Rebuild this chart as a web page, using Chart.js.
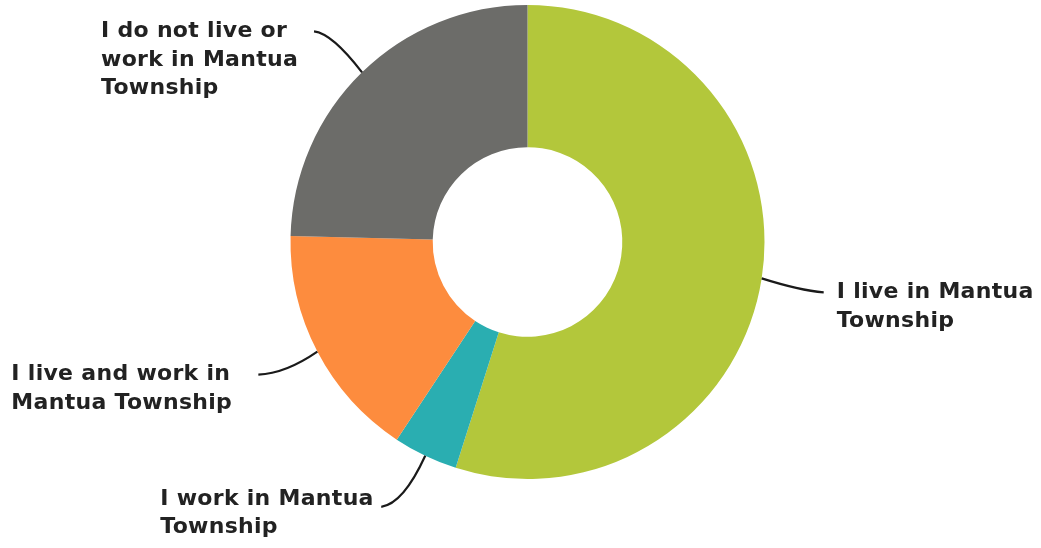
<!DOCTYPE html>
<html>
<head>
<meta charset="utf-8">
<script src="https://cdn.jsdelivr.net/npm/chart.js@4/dist/chart.umd.min.js"></script>
<style>
  html, body { margin: 0; padding: 0; background: #ffffff; }
  #wrap { width: 1041px; height: 548px; position: relative; }
</style>
</head>
<body>
<div id="wrap"><canvas id="c" width="1041" height="548"></canvas></div>
<script>
// ---- data ----
const categories = [
  "I live in Mantua Township",
  "I work in Mantua Township",
  "I live and work in Mantua Township",
  "I do not live or work in Mantua Township"
];
const labelLines = [
  ["I live in Mantua", "Township"],
  ["I work in Mantua", "Township"],
  ["I live and work in", "Mantua Township"],
  ["I do not live or", "work in Mantua", "Township"]
];
const shares = [54.9, 4.4, 16.1, 24.6];
const colors = ["#b3c73b", "#2aaeb1", "#fd8c3e", "#6c6c69"];

// ---- label layout (relative to each slice's outer midpoint) ----
const labelStyle = [
  { end: [62, 14], ctrl: [38, 12], text: [13, 0] },
  { end: [-44, 51], ctrl: [-22, 48], text: [-221, -8] },
  { end: [-59, 23], ctrl: [-32, 22], text: [-247, 0] },
  { end: [-48, -41], ctrl: [-30, -39], text: [-213, 0] }
];
const FONT = "bold 22px 'DejaVu Sans', Verdana, sans-serif";
const LINE_H = 28.5;

const leaderLabels = {
  id: 'leaderLabels',
  afterDraw(chart) {
    const ctx = chart.ctx;
    const meta = chart.getDatasetMeta(0);
    meta.data.forEach((arc, i) => {
      const p = arc.getProps(['x', 'y', 'startAngle', 'endAngle', 'outerRadius'], true);
      const mid = (p.startAngle + p.endAngle) / 2;
      const ax = p.x + Math.cos(mid) * p.outerRadius;
      const ay = p.y + Math.sin(mid) * p.outerRadius;
      const s = labelStyle[i];
      const ex = ax + s.end[0], ey = ay + s.end[1];
      const cx = ax + s.ctrl[0], cy = ay + s.ctrl[1];
      ctx.save();
      ctx.strokeStyle = '#1a1a1a';
      ctx.lineWidth = 2.2;
      ctx.beginPath();
      ctx.moveTo(ax, ay);
      ctx.quadraticCurveTo(cx, cy, ex, ey);
      ctx.stroke();
      ctx.fillStyle = '#222222';
      ctx.font = FONT;
      if ('letterSpacing' in ctx) ctx.letterSpacing = '0.3px';
      ctx.textAlign = 'left';
      ctx.textBaseline = 'middle';
      const tx = ex + s.text[0], ty = ey + s.text[1];
      labelLines[i].forEach((line, k) => {
        ctx.fillText(line, tx, ty + k * LINE_H);
      });
      ctx.restore();
    });
  }
};

new Chart(document.getElementById('c'), {
  type: 'doughnut',
  data: {
    labels: categories,
    datasets: [{
      data: shares,
      backgroundColor: colors,
      borderWidth: 0
    }]
  },
  options: {
    responsive: false,
    animation: false,
    cutout: '40%',
    layout: { padding: { left: 290, right: 276, top: 5, bottom: 69 } },
    plugins: {
      legend: { display: false },
      tooltip: { enabled: false }
    }
  },
  plugins: [leaderLabels]
});
</script>
</body>
</html>
